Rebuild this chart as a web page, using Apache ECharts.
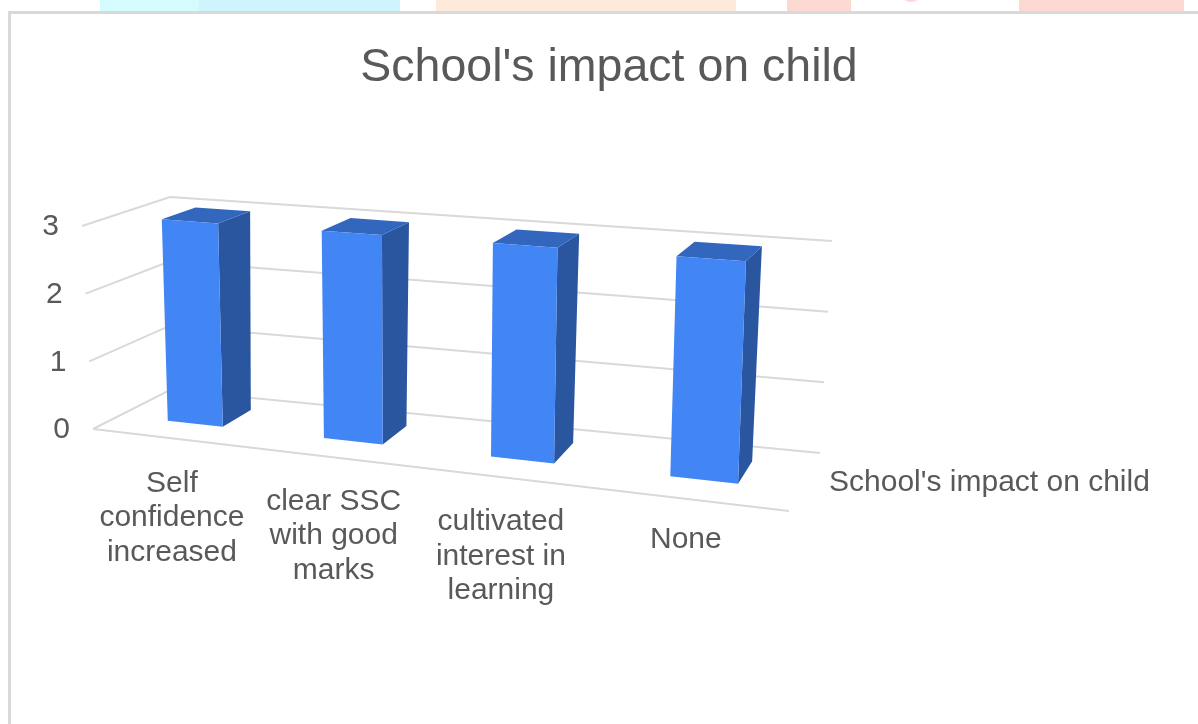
<!DOCTYPE html>
<html>
<head>
<meta charset="utf-8">
<style>html,body{margin:0;padding:0;background:#fff}#c{width:1198px;height:724px}</style>
<script src="https://cdn.jsdelivr.net/npm/echarts@6/dist/echarts.min.js"></script>
</head>
<body>
<div id="c"></div>
<script>
const chartTitle = "School's impact on child";
const seriesName = "School's impact on child";
const categories = ["Self\nconfidence\nincreased", "clear SSC\nwith good\nmarks", "cultivated\ninterest in\nlearning", "None"];
const values = [3, 3, 3, 3];
const yTicks = [0, 1, 2, 3];

// Perspective box: [bottom, top] pixel corners of the chart's 3D frame
const FL = [[93, 429], [82, 226]];
const FR = [[789, 511], [797, 279]];
const BL = [[170, 390], [170, 197]];
const BR = [[820, 453], [832, 241]];
const K = 0.87;           // horizontal foreshortening
const BAR_W = 0.36;       // bar width, in category bands
const D0 = 0.35, D1 = 0.75; // bar depth range
const labelNudgeX = [2, 2, -4, -5];
const labelNudgeY = [45, 44, 44, 40];
const TEXT = '#595959', FONT = '"Liberation Sans", Arial, sans-serif';

function lerp(a, b, f) { return [a[0] + (b[0] - a[0]) * f, a[1] + (b[1] - a[1]) * f]; }
// u,v: 0..1 in the plot rectangle, d: 0 (front) .. 1 (back)
function project(u, v, d) {
  const s = K * u / (1 + (K - 1) * u);
  const fl = lerp(FL[0], FL[1], v), fr = lerp(FR[0], FR[1], v);
  const bl = lerp(BL[0], BL[1], v), br = lerp(BR[0], BR[1], v);
  return lerp(lerp(fl, fr, s), lerp(bl, br, s), d);
}
function norm(sys, p) { return [(p[0] - sys.x) / sys.width, 1 - (p[1] - sys.y) / sys.height]; }

function renderFrame(params, api) {
  const sys = params.coordSys;
  const tick = api.value(1);
  const v = norm(sys, api.coord([0, tick]))[1];
  const a = project(0, v, 0), b = project(0, v, 1), c = project(1, v, 1);
  const style = { stroke: '#d9d9d9', lineWidth: 2, fill: null };
  const kids = [
    { type: 'polyline', shape: { points: [a, b, c] }, style: style },
    { type: 'text', style: { text: String(tick), x: a[0] - 23, y: a[1] + 1, align: 'right', verticalAlign: 'middle',
        fill: TEXT, font: '30px ' + FONT } }
  ];
  if (tick === yTicks[0]) kids.push({ type: 'polyline', shape: { points: [a, project(1, v, 0)] }, style: style });
  return { type: 'group', children: kids };
}

function renderBar(params, api) {
  const sys = params.coordSys;
  const i = api.value(0);
  const band = api.size([1, 0])[0];
  const cx = api.coord([i, 0])[0];
  const u0 = (cx - band * BAR_W / 2 - sys.x) / sys.width;
  const u1 = (cx + band * BAR_W / 2 - sys.x) / sys.width;
  const v = norm(sys, api.coord([i, api.value(1)]))[1];
  const a = project(u0, 0, D0), b = project(u1, 0, D0), c = project(u1, v, D0), e = project(u0, v, D0);
  const f = project(u1, 0, D1), g = project(u1, v, D1), h = project(u0, v, D1);
  return { type: 'group', children: [
    { type: 'polygon', shape: { points: [b, f, g, c] }, style: { fill: '#2a56a0' } },
    { type: 'polygon', shape: { points: [e, c, g, h] }, style: { fill: '#3367bd' } },
    { type: 'polygon', shape: { points: [a, b, c, e] }, style: { fill: '#4285f4' } }
  ] };
}

function renderLabel(params, api) {
  const sys = params.coordSys;
  const i = api.value(0);
  const u = (api.coord([i, 0])[0] - sys.x) / sys.width;
  const p = project(u, 0, 0);
  return { type: 'text', style: { text: categories[i], x: p[0] + labelNudgeX[i], y: p[1] + labelNudgeY[i] - 17,
    align: 'center', verticalAlign: 'top', lineHeight: 34.5, fill: TEXT, font: '30px ' + FONT } };
}

const chart = echarts.init(document.getElementById('c'), null, { renderer: 'canvas' });
chart.setOption({
  animation: false,
  backgroundColor: '#ffffff',
  title: { text: chartTitle, left: 604, top: 40, textAlign: 'center',
    textStyle: { color: TEXT, fontSize: 46.5, fontWeight: 'normal', fontFamily: FONT } },
  legend: { data: [{ name: seriesName, icon: 'none' }], left: 819, top: 463, itemWidth: 0, itemHeight: 0, selectedMode: false,
    textStyle: { color: TEXT, fontSize: 30, fontFamily: FONT } },
  grid: { left: 100, right: 400, top: 225, height: 203 },
  xAxis: { type: 'category', data: categories, show: false },
  yAxis: { type: 'value', min: 0, max: 3, interval: 1, show: false },
  graphic: [
    { type: 'rect', silent: true, z: 0, shape: { x: 100, y: 0, width: 100, height: 11 }, style: { fill: '#d4fbfe' } },
    { type: 'rect', silent: true, z: 0, shape: { x: 199, y: 0, width: 201, height: 11 }, style: { fill: '#cff4fe' } },
    { type: 'rect', silent: true, z: 0, shape: { x: 436, y: 0, width: 300, height: 11 }, style: { fill: '#fdeadb' } },
    { type: 'rect', silent: true, z: 0, shape: { x: 787, y: 0, width: 64, height: 11 }, style: { fill: '#fdd9d3' } },
    { type: 'circle', silent: true, z: 0, shape: { cx: 911, cy: -10, r: 12 }, style: { fill: '#fdd9d3' } },
    { type: 'rect', silent: true, z: 0, shape: { x: 1019, y: 0, width: 165, height: 11 }, style: { fill: '#fdd9d3' } },
    { type: 'rect', silent: true, z: 1, shape: { x: 8, y: 11, width: 1190, height: 3 }, style: { fill: '#d9d9d9' } },
    { type: 'rect', silent: true, z: 1, shape: { x: 8, y: 11, width: 3, height: 713 }, style: { fill: '#d9d9d9' } }
  ],
  series: [
    { type: 'custom', name: 'frame', silent: true, z: 1, clip: false, renderItem: renderFrame,
      data: yTicks.map(t => [0, t]), encode: { x: 0, y: 1 } },
    { type: 'custom', name: seriesName, silent: true, z: 2, clip: false, renderItem: renderBar, itemStyle: { color: '#4285f4' },
      data: values.map((v, i) => [i, v]), encode: { x: 0, y: 1 } },
    { type: 'custom', name: 'labels', silent: true, z: 3, clip: false, renderItem: renderLabel,
      data: categories.map((c, i) => [i, 0]), encode: { x: 0, y: 1 } }
  ]
});
</script>
</body>
</html>
